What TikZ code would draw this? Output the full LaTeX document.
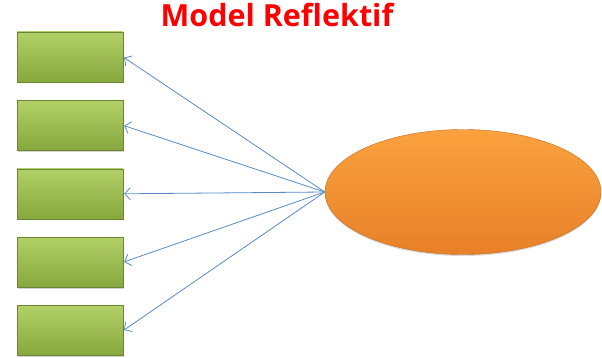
\documentclass[tikz,border=0pt]{standalone}
\usepackage{fontspec}
\setmainfont{Open Sans}
\usetikzlibrary{shapes.geometric, arrows.meta, positioning, shadows}

\definecolor{indtop}{RGB}{178,208,104}
\definecolor{indbot}{RGB}{134,168,62}
\definecolor{lvtop}{RGB}{250,162,62}
\definecolor{lvbot}{RGB}{232,128,40}
\definecolor{loadblue}{RGB}{88,138,198}

\tikzset{
  indicator/.style={rectangle, minimum width=106pt, minimum height=50pt, inner sep=0pt,
    top color=indtop, bottom color=indbot, draw=indbot!80!black, line width=0.4pt,
    drop shadow={shadow xshift=1pt, shadow yshift=-1.5pt, opacity=0.35}},
  latent/.style={ellipse, minimum width=276pt, minimum height=125pt, inner sep=0pt,
    top color=lvtop, bottom color=lvbot, draw=lvbot!85!black, line width=0.4pt,
    drop shadow={shadow xshift=0pt, shadow yshift=-1.5pt, opacity=0.3}},
  loading/.style={-{Straight Barb[length=5.5pt,width=12pt]}, draw=loadblue, line width=0.8pt, shorten >=1pt},
  heading/.style={text=red, font=\bfseries\fontsize{30.5}{33}\selectfont, inner sep=0pt}
}

\begin{document}
\begin{tikzpicture}[x=1pt,y=-1pt]

\useasboundingbox (0,0) rectangle (602,358);

% title
\node[heading, anchor=base] (title) at (277,27) {Model Reflektif};

% indicators
\node[indicator] (ind1) at (70,57) {};
\foreach \i [count=\j from 1] in {2,...,5}
  \node[indicator, below=18pt of ind\j] (ind\i) {};

% latent variable
\node[latent] (lv) at (463,192) {};

% loadings
\foreach \i in {1,...,5} \draw[loading] (lv.west) -- (ind\i.east);

\end{tikzpicture}
\end{document}
